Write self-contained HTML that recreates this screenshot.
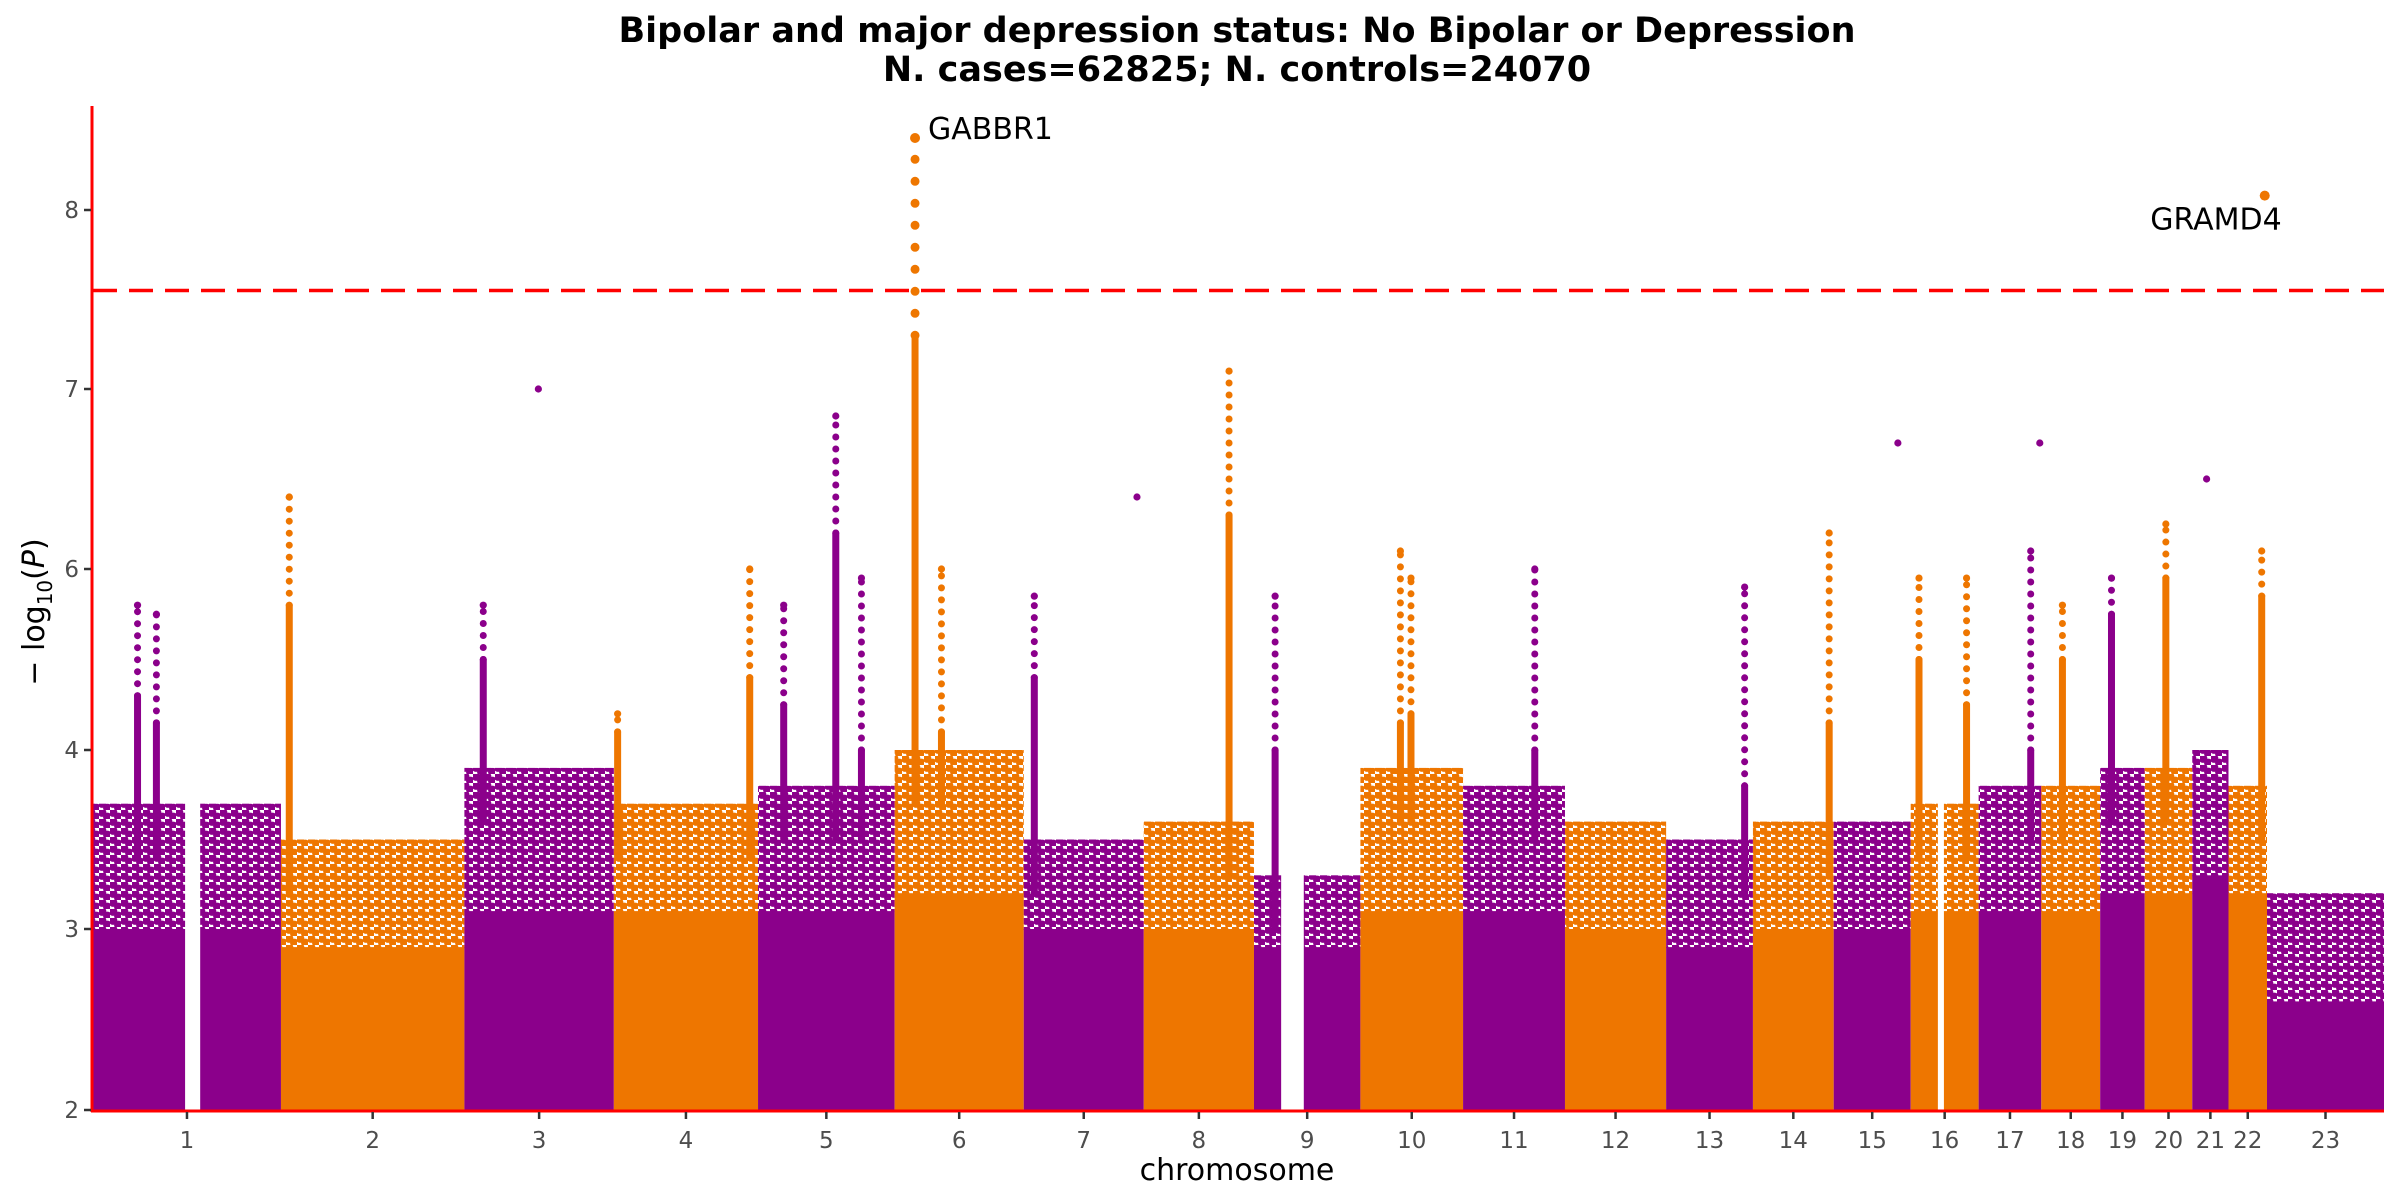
<!DOCTYPE html>
<html><head><meta charset="utf-8"><style>
html,body{margin:0;padding:0;background:#fff}
svg{display:block}
text{font-family:"DejaVu Sans","Liberation Sans",sans-serif}
</style></head><body>
<svg id="chart" width="2400" height="1200" viewBox="0 0 2400 1200" xmlns="http://www.w3.org/2000/svg">
<defs>
<pattern id="patP" width="11" height="9" patternUnits="userSpaceOnUse"><circle cx="3" cy="2.5" r="4.4" fill="#8B008B"/><circle cx="8.5" cy="7" r="4.4" fill="#8B008B"/></pattern>
<pattern id="patO" width="11" height="9" patternUnits="userSpaceOnUse"><circle cx="3" cy="2.5" r="4.4" fill="#EE7600"/><circle cx="8.5" cy="7" r="4.4" fill="#EE7600"/></pattern>
</defs>
<text x="1237" y="42" font-size="35" font-weight="bold" text-anchor="middle">Bipolar and major depression status: No Bipolar or Depression</text>
<text x="1237" y="81" font-size="35" font-weight="bold" text-anchor="middle">N. cases=62825; N. controls=24070</text>
<g id="marks"></g>
<g id="axes"></g>
<text x="1237" y="1180" font-size="30" text-anchor="middle">chromosome</text>
<text transform="translate(44,612) rotate(-90)" font-size="30" text-anchor="middle">− log<tspan font-size="20" dy="8">10</tspan><tspan dy="-8">(</tspan><tspan font-style="italic">P</tspan>)</text>
</svg>
<script>
const chrNames = ["1","2","3","4","5","6","7","8","9","10","11","12","13","14","15","16","17","18","19","20","21","22","23"];
const chrLen = [249,243,198,191,181,171,159,146,141,136,135,134,115,107,102,90,83,78,59,63,48,51,155];
const solidTop = [3.0,2.9,3.1,3.1,3.1,3.2,3.0,3.0,2.9,3.1,3.1,3.0,2.9,3.0,3.0,3.1,3.1,3.1,3.2,3.2,3.3,3.2,2.6];
const scatterTop = [3.7,3.5,3.9,3.7,3.8,4.0,3.5,3.6,3.3,3.9,3.8,3.6,3.5,3.6,3.6,3.7,3.8,3.8,3.9,3.9,4.0,3.8,3.2];
const gapChr = [1,9,16];
const gapStart = [122,36,36];
const gapEnd = [142,66,44];
const peakChr = [1,1,2,3,3,4,4,5,5,5,6,6,7,7,8,9,10,10,11,13,14,15,16,16,17,17,18,19,20,21,22,22];
const peakPos = [59,84,11,25,98,5,180,34,103,137,27,62,14,150,113,28,53,67,95,104,101,85,11,74,69,81,28,15,28,19,44,48];
const peakDense = [4.6,4.3,5.6,5.0,3.8,4.2,4.8,4.5,6.2,4.0,7.3,4.2,4.8,3.8,6.3,4.0,4.3,4.4,4.0,3.8,4.3,4.5,5.0,4.5,4.0,3.8,5.0,5.5,5.9,4.2,5.7,3.8];
const peakTop = [5.6,5.5,6.4,5.6,7.0,4.4,6.0,5.6,6.85,5.9,8.4,6.0,5.7,6.4,7.1,5.7,6.1,5.9,6.0,5.8,6.2,6.7,5.9,5.9,6.1,6.7,5.6,5.9,6.25,6.5,6.1,8.08];
const peakSolo = [0,0,0,0,1,0,0,0,0,0,0,0,0,1,0,0,0,0,0,0,0,1,0,0,0,1,0,0,0,1,0,1];
const yTickVals = [2,3,4,6,7,8];
const threshold = 7.55;
const labelNames = ["GABBR1","GRAMD4"];
const labelChr = [6,22];
const labelPos = [27,48];
const labelVal = [8.4,8.08];

const NS="http://www.w3.org/2000/svg";
const X0=93,X1=2384,YB=1110;
const yPix=[1110,929,750,569,389,210];
const total=chrLen.reduce((a,b)=>a+b,0);
const cum=[];let acc=0;chrLen.forEach(l=>{cum.push(acc);acc+=l;});
function xs(c,pos){return X0+(cum[c-1]+pos)/total*(X1-X0);}
function ys(v){
  for(let i=0;i<yTickVals.length-1;i++){
    if(v<=yTickVals[i+1]){const a=yTickVals[i],b=yTickVals[i+1];return yPix[i]+(v-a)/(b-a)*(yPix[i+1]-yPix[i]);}
  }
  const n=yTickVals.length-1;return yPix[n]-(v-yTickVals[n])*180;
}
function mk(tag,at,parent){const e=document.createElementNS(NS,tag);for(const k in at)e.setAttribute(k,at[k]);parent.appendChild(e);return e;}
const marks=document.getElementById('marks');
const axes=document.getElementById('axes');
const col=c=>c%2===1?"#8B008B":"#EE7600";

chrNames.forEach((n,i)=>{
  const c=i+1,xa=xs(c,0),xb=xs(c,chrLen[i]);
  const g=mk('g',{},marks);
  
  
  const r1=mk('rect',{x:xa,y:ys(solidTop[i]),width:xb-xa,height:YB-ys(solidTop[i]),fill:col(c)},g);
  
  
  const r2=mk('rect',{x:xa,y:ys(scatterTop[i]),width:xb-xa,height:ys(solidTop[i])-ys(scatterTop[i])+1,fill:c%2===1?"url(#patP)":"url(#patO)"},g);
  
  
});
gapChr.forEach((c,i)=>{
  const r=mk('rect',{x:xs(c,gapStart[i]),y:ys(5),width:xs(c,gapEnd[i])-xs(c,gapStart[i]),height:YB-ys(5)+1,fill:"#fff"},marks);
  
  
});
peakChr.forEach((c,i)=>{
  const x=xs(c,peakPos[i]);
  const g=mk('g',{},marks);
  
  
  const yb=ys(scatterTop[c-1]-0.3),yd=ys(peakDense[i]),yt=ys(peakTop[i]);
  const big=peakTop[i]>threshold;
  if(!peakSolo[i]){
    mk('line',{x1:x,y1:yb,x2:x,y2:yd,stroke:col(c),'stroke-width':7,'stroke-linecap':'round'},g);
    if(yt<yd-6) mk('line',{x1:x,y1:yd,x2:x,y2:yt,stroke:col(c),'stroke-width':big?9:7,'stroke-linecap':'round','stroke-dasharray':big?'0 22':'0 12'},g);
  }
  mk('circle',{cx:x,cy:yt,r:big?5:3.6,fill:col(c)},g);
});
const th=mk('line',{x1:X0,x2:X1,y1:ys(threshold),y2:ys(threshold),stroke:"#ff0000","stroke-width":3.5,"stroke-dasharray":"24 12"},axes);


const ya=mk('line',{x1:X0-1,x2:X0-1,y1:106,y2:YB+2,stroke:"#ff0000","stroke-width":3},axes);


const xa=mk('line',{x1:X0-2,x2:X1,y1:YB+1,y2:YB+1,stroke:"#ff0000","stroke-width":3},axes);


yTickVals.forEach(v=>{
  const y=ys(v);
  const t=mk('line',{x1:X0-9,x2:X0-2,y1:y,y2:y,stroke:"#333","stroke-width":2.5},axes);
  
  
  const l=mk('text',{x:X0-14,y:y+8,'font-size':23,fill:"#4d4d4d",'text-anchor':'end'},axes);
  l.textContent=v;
  
  
});
chrNames.forEach((n,i)=>{
  const x=xs(i+1,chrLen[i]/2);
  const t=mk('line',{x1:x,x2:x,y1:YB+2,y2:YB+9,stroke:"#333","stroke-width":2.5},axes);
  
  
  const l=mk('text',{x:x,y:YB+38,'font-size':23,fill:"#4d4d4d",'text-anchor':'middle'},axes);
  l.textContent=n;
  
  
});
labelNames.forEach((n,i)=>{
  const x=xs(labelChr[i],labelPos[i]),y=ys(labelVal[i]);
  const first=i===0;
  const l=mk('text',{x:first?x+13:x+17,y:first?y+1:y+34,'font-size':30,fill:"#000",'text-anchor':first?'start':'end'},axes);
  l.textContent=n;
  
  
});
</script>
</body></html>
